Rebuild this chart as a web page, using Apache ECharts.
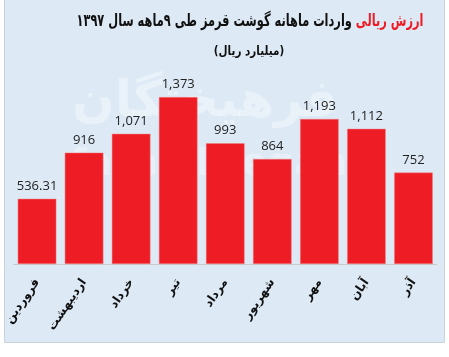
<!DOCTYPE html>
<html><head><meta charset="utf-8">
<script src="https://cdn.jsdelivr.net/npm/echarts@6/dist/echarts.min.js"></script>
<style>html,body{margin:0;padding:0;background:#fff}#c{width:449px;height:357px}</style>
</head><body><div id="c"></div>
<script>
const categories = ['فروردین','اردیبهشت','خرداد','تیر','مرداد','شهریور','مهر','آبان','آذر'];
const values = [536.31, 916, 1071, 1373, 993, 864, 1193, 1112, 752];
const valueLabels = ['536.31','916','1,071','1,373','993','864','1,193','1,112','752'];
const titleRed = 'ارزش ریالی';
const titleBlack = 'واردات ماهانه گوشت قرمز طی ۹ماهه سال ۱۳۹۷';
const subtitle = '(میلیارد ریال)';

const chart = echarts.init(document.getElementById('c'));
chart.setOption({
  animation: false,
  backgroundColor: '#ffffff',
  graphic: [
    {type:'rect', shape:{x:4.5, y:-1, width:440, height:343.5}, style:{fill:'#ddeaf6', stroke:'#c9d1d9', lineWidth:1}, z:-10},
    {type:'text', left:72, top:78, style:{text:'فرهیختگان', font:'bold 50px "DejaVu Sans"', fill:'rgba(255,255,255,0.35)'}, z:-5},
    {type:'text', left:70, top:146, style:{text:'farhikhtegan', font:'bold 38px "DejaVu Sans"', fill:'rgba(255,255,255,0.3)'}, z:-5},
    {type:'group', x:250, y:22, scaleX:0.67, children:[
      {type:'text', style:{text:'{b|' + titleBlack + ' }{r|' + titleRed + '}', align:'center', verticalAlign:'middle',
        rich:{
          b:{fontFamily:'DejaVu Sans', fontWeight:'bold', fontSize:17, fill:'#111'},
          r:{fontFamily:'DejaVu Sans', fontWeight:'bold', fontSize:17, fill:'#ee1c25'}
        }}}
    ]},
    {type:'group', x:249, y:52, scaleX:0.8, children:[
      {type:'text', style:{text: subtitle, align:'center', verticalAlign:'middle', font:'bold 13px "DejaVu Sans"', fill:'#111'}}
    ]}
  ],
  grid: {left:13.5, right:12, top:69.5, bottom:93, containLabel:false},
  xAxis: {
    type:'category', data: categories,
    axisLine:{show:true, lineStyle:{color:'#c8ccd0', width:1}},
    axisTick:{show:false},
    axisLabel:{rotate:56, interval:0, margin:16, fontFamily:'DejaVu Sans', fontWeight:'bold', fontSize:12, color:'#111'}
  },
  yAxis: {type:'value', min:0, max:1600, show:false, splitLine:{show:false}},
  series: [{
    type:'bar', data: values, barCategoryGap:'18%',
    itemStyle:{color:'#ee1c25', borderColor:'#f08080', borderWidth:0.5},
    label:{show:true, position:'top', distance:6, fontFamily:'Open Sans', fontSize:13, color:'#222',
      formatter: p => valueLabels[p.dataIndex]}
  }]
});
</script></body></html>
